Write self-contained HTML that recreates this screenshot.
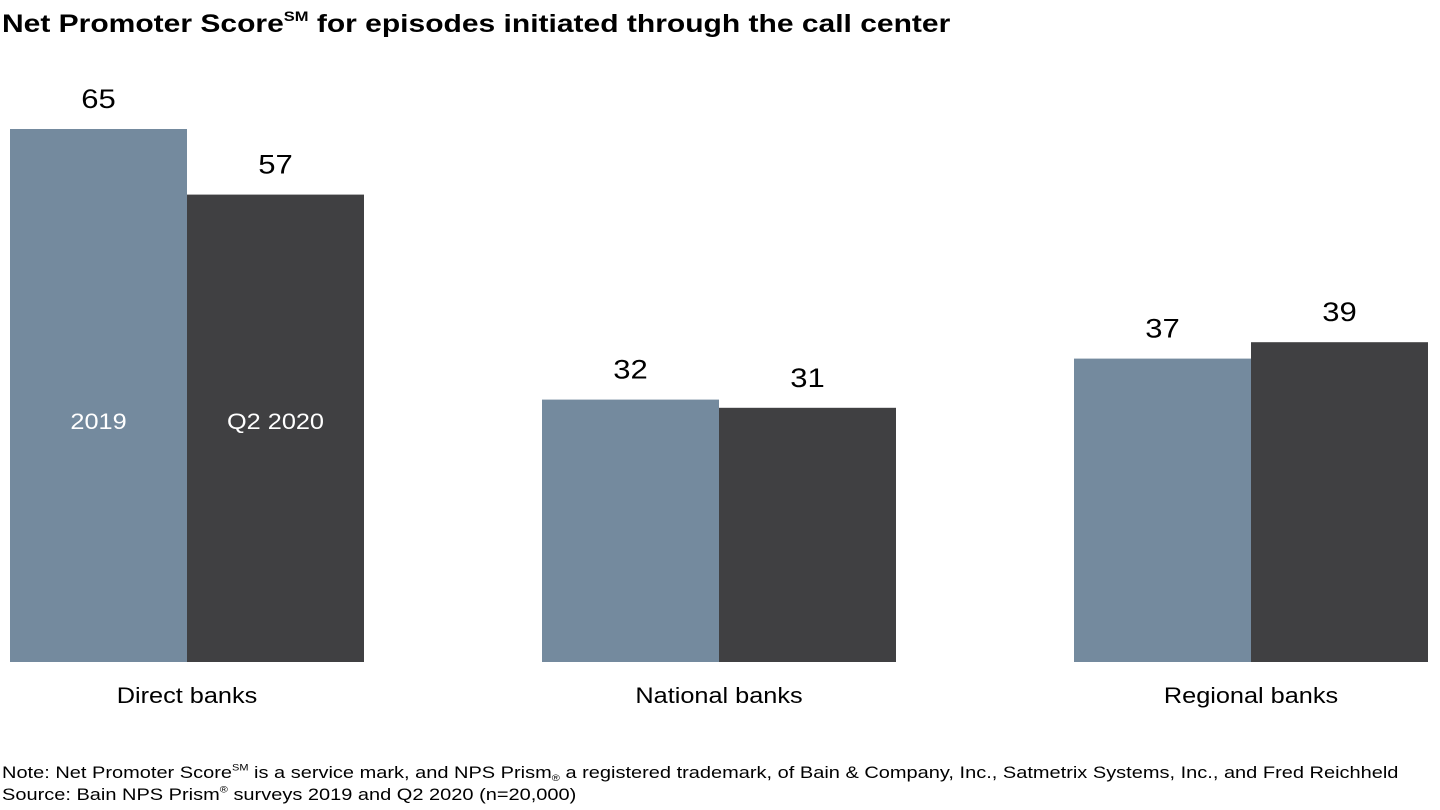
<!DOCTYPE html>
<html><head><meta charset="utf-8"><style>
body{margin:0;width:1440px;height:810px;background:#fff;font-family:"Liberation Sans",Arial,sans-serif;overflow:hidden;position:relative}
#title{position:absolute;left:2px;top:10px;font-size:25px;font-weight:bold;color:#000;white-space:nowrap;transform:scaleX(1.2);transform-origin:0 0}
sup{font-size:0.55em;vertical-align:0.8em;line-height:0}
sub{font-size:0.55em;vertical-align:-0.3em;line-height:0}
.note{position:absolute;left:2px;font-size:17px;color:#000;white-space:nowrap;transform:scaleX(1.176);transform-origin:0 0}
</style></head><body>
<div id="title">Net Promoter Score<sup>SM</sup> for episodes initiated through the call center</div>
<svg id="chart" width="1440" height="740" style="position:absolute;left:0;top:0"></svg>
<div class="note" style="top:763px">Note: Net Promoter Score<sup>SM</sup> is a service mark, and NPS Prism<sub>®</sub> a registered trademark, of Bain &amp; Company, Inc., Satmetrix Systems, Inc., and Fred Reichheld</div>
<div class="note" style="top:785px">Source: Bain NPS Prism<sup>®</sup> surveys 2019 and Q2 2020 (n=20,000)</div>
<script>
const categories=["Direct banks","National banks","Regional banks"];
const series2019=[65,32,37];
const seriesQ2=[57,31,39];
const seriesNames=["2019","Q2 2020"];
const svg=document.getElementById('chart');
const NS='http://www.w3.org/2000/svg';
const baseY=662, scale=8.2, barW=177, sx=1.15;
const centers=[187,719,1251];
function y(v){return baseY-v*scale;}
function mk(tag,attrs){const e=document.createElementNS(NS,tag);for(const k in attrs)e.setAttribute(k,attrs[k]);svg.appendChild(e);return e;}
function txt(cx,cy,size,fill,s){
  const t=mk('text',{x:0,y:0,'text-anchor':'middle','font-size':size,fill:fill,transform:'translate('+cx+','+cy+') scale('+sx+',1)'});
  t.textContent=s;return t;
}
const colors=["#748a9e","#404042"];
categories.forEach((c,i)=>{
  [series2019[i],seriesQ2[i]].forEach((v,j)=>{
    const x=centers[i]-barW+j*barW;
    const r=mk('rect',{x:x,y:y(v),width:barW,height:v*scale,fill:colors[j]});
    
    
    const t=txt(x+barW/2,y(v)-21,27,'#000',v);
    
    
    if(i===0){
      const s=txt(x+barW/2,429,22,'#fff',seriesNames[j]);
      
      
    }
  });
  const ct=txt(centers[i],703,22,'#000',c);
  
  
});
</script>
</body></html>
